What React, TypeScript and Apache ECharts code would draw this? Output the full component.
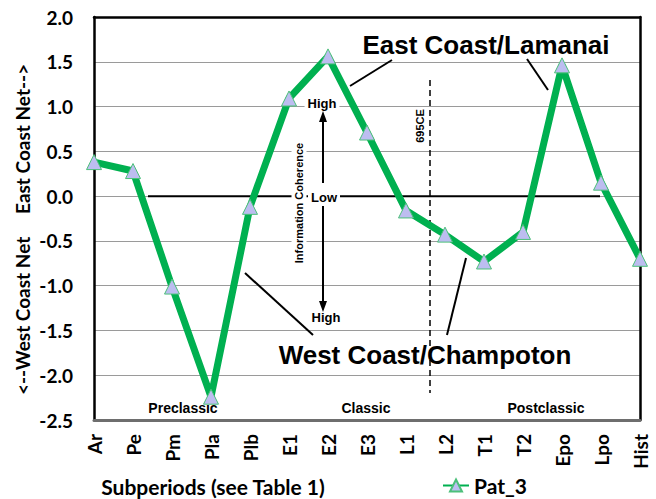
import React, { useEffect, useRef } from "react";
import * as echarts from "echarts";

const categories = ["Ar", "Pe", "Pm", "Pla", "Plb", "E1", "E2", "E3", "L1", "L2", "T1", "T2", "Epo", "Lpo", "Hist"];
const pat3 = [0.38, 0.28, -1.01, -2.24, -0.12, 1.09, 1.56, 0.71, -0.16, -0.43, -0.73, -0.4, 1.46, 0.15, -0.7];
const yMin = -2.5;
const yMax = 2.0;
const yStep = 0.5;
const periodLabels = ["Preclassic", "Classic", "Postclassic"];

const AX = "Lato, 'Noto Sans', sans-serif";
const AN = "'Liberation Sans', Arial, sans-serif";

export default function App() {
  const ref = useRef<HTMLDivElement>(null);
  useEffect(() => {
    document.body.style.margin = "0";
    if (!ref.current) return;
    const chart = echarts.init(ref.current, null, { renderer: "svg" });
    const txt = (text: string, x: number, y: number, size: number, extra: any = {}) => ({
      type: "text",
      x,
      y,
      z: 5,
      rotation: extra.rotation || 0,
      style: {
        text,
        fill: "#000",
        font: `bold ${size}px ${extra.family || AN}`,
        align: extra.align || "center",
        verticalAlign: "middle",
        backgroundColor: extra.bg,
        padding: extra.pad,
      },
    });
    const ln = (x1: number, y1: number, x2: number, y2: number, w = 2, dash?: number[]) => ({
      type: "line",
      z: 4,
      shape: { x1, y1, x2, y2 },
      style: { stroke: "#000", lineWidth: w, lineDash: dash },
    });
    const blackLine = { show: true, onZero: false, lineStyle: { color: "#000", width: 2.5 } };
    const option: any = {
      animation: false,
      grid: { left: 94, right: 16, top: 17, bottom: 79 },
      legend: {
        data: ["Pat_3"],
        left: 437,
        top: 470,
        itemWidth: 26,
        itemHeight: 15,
        itemGap: 3,
        textStyle: { fontFamily: AX, fontWeight: "bold", fontSize: 21, color: "#000" },
      },
      xAxis: [
        {
          type: "category",
          data: categories,
          boundaryGap: false,
          z: 3,
          axisLine: { show: true, onZero: false, lineStyle: { color: "#6e6e6e", width: 3 } },
          axisTick: { show: false },
          axisLabel: {
            rotate: 90,
            margin: 14,
            fontFamily: AX,
            fontWeight: "bold",
            fontSize: 19,
            color: "#000",
          },
          splitLine: { show: false },
        },
        {
          type: "category",
          data: categories,
          boundaryGap: false,
          position: "top",
          z: 3,
          axisLine: blackLine,
          axisTick: { show: false },
          axisLabel: { show: false },
          splitLine: { show: false },
        },
      ],
      yAxis: [
        {
          type: "value",
          min: yMin,
          max: yMax,
          interval: yStep,
          z: 3,
          axisLine: blackLine,
          axisTick: { show: false },
          axisLabel: {
            margin: 21,
            fontFamily: AX,
            fontWeight: "bold",
            fontSize: 19,
            color: "#000",
            formatter: (v: number) => v.toFixed(1),
          },
          splitLine: { show: true, lineStyle: { color: "#9a9a9a", width: 1 } },
        },
        {
          type: "value",
          min: yMin,
          max: yMax,
          interval: yStep,
          position: "right",
          z: 3,
          axisLine: blackLine,
          axisTick: { show: false },
          axisLabel: { show: false },
          splitLine: { show: false },
        },
      ],
      series: [
        {
          name: "Pat_3",
          type: "line",
          data: pat3,
          z: 6,
          symbol: "triangle",
          symbolSize: 15,
          lineStyle: { color: "#00B050", width: 7 },
          itemStyle: { color: "#BDBDF0", borderColor: "#4CC07A", borderWidth: 1 },
        },
      ],
      graphic: [
        txt("<--West Coast Net", 22, 395, 19, { family: AX, align: "left", rotation: Math.PI / 2 }),
        txt("East Coast Net-->", 22, 214, 19, { family: AX, align: "left", rotation: Math.PI / 2 }),
        txt("Subperiods (see Table 1)", 213, 486, 21, { family: AX }),
        ln(148, 196.2, 600, 196.2, 2),
        txt("East Coast/Lamanai", 486, 45, 26),
        txt("West Coast/Champoton", 425, 355, 26),
        ln(392, 60, 350, 86),
        ln(527, 59, 548, 90),
        ln(245, 273, 313, 335),
        ln(466, 258, 447, 335),
        ln(430, 80, 430, 393, 1.5, [6, 4]),
        txt("695CE", 420, 126, 11, { rotation: Math.PI / 2, bg: "#fff", pad: [0, 1] }),
        txt("Information Coherence", 299, 203, 11, { rotation: Math.PI / 2, bg: "#fff", pad: [2, 3] }),
        txt("High", 322, 103, 13, { bg: "#fff", pad: [1, 3] }),
        txt("Low", 324, 197, 13, { bg: "#fff", pad: [1, 3] }),
        txt("High", 326, 317, 13),
        ln(323, 183, 323, 118, 2),
        { type: "polygon", z: 4, shape: { points: [[323, 111], [319, 122], [327, 122]] }, style: { fill: "#000" } },
        ln(323, 206, 323, 304, 2),
        { type: "polygon", z: 4, shape: { points: [[323, 312], [319, 301], [327, 301]] }, style: { fill: "#000" } },
        txt(periodLabels[0], 183, 408, 14),
        txt(periodLabels[1], 366, 408, 14),
        txt(periodLabels[2], 546, 408, 14),
      ],
    };
    chart.setOption(option);
    return () => chart.dispose();
  }, []);
  return <div ref={ref} style={{ width: 656, height: 499 }} />;
}
